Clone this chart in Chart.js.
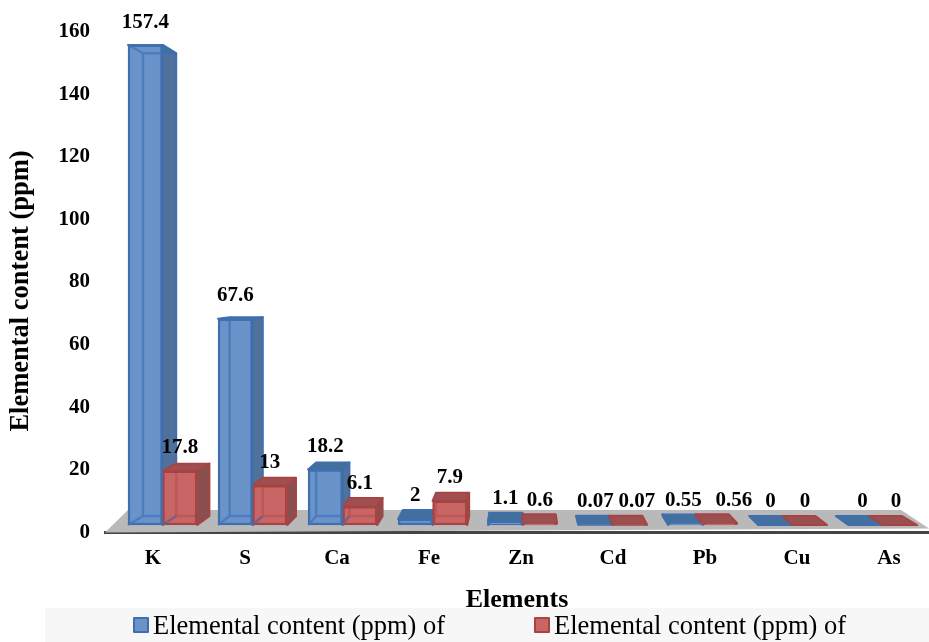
<!DOCTYPE html>
<html>
<head>
<meta charset="utf-8">
<style>html,body{margin:0;padding:0;background:#fff;overflow:hidden}canvas{display:block}</style>
<script src="https://cdn.jsdelivr.net/npm/chart.js@4"></script>
</head>
<body>
<div style="width:929px;height:642px;position:relative"><canvas id="c"></canvas></div>
<script>
const elements = ['K', 'S', 'Ca', 'Fe', 'Zn', 'Cd', 'Pb', 'Cu', 'As'];
const contentFirst = [157.4, 67.6, 18.2, 2, 1.1, 0.07, 0.55, 0, 0];
const contentSecond = [17.8, 13, 6.1, 7.9, 0.6, 0.07, 0.56, 0, 0];
const seriesNames = ['Elemental content (ppm) of', 'Elemental content (ppm) of'];
const yTicks = [0, 20, 40, 60, 80, 100, 120, 140, 160];
const yAxisTitle = 'Elemental content (ppm)';

const SERIF = '"Liberation Serif", "Times New Roman", serif';
const palettes = [
  { front: '#6a93c9', border: '#3f6fae', edge: 'rgba(64,115,185,0.7)', side: '#50719b', top: '#41709f', floor: '#44709f' },
  { front: '#c96565', border: '#a64444', edge: 'rgba(168,62,62,0.35)', side: '#8b4f50', top: '#a04f50', floor: '#9a5050' }
];

// Horizontal lean of the bars' depth: to the right on the left of the chart, to the left on the right.
const leanAt = x => 15 - (x - 128) * 0.0382;
// Vertical offset of the back edge; taller bars are seen from lower down.
const riseAt = value => -9 + value * 0.11;

function poly(ctx, pts, fill, stroke, lw) {
  ctx.beginPath();
  pts.forEach((p, i) => i ? ctx.lineTo(p[0], p[1]) : ctx.moveTo(p[0], p[1]));
  ctx.closePath();
  ctx.lineJoin = 'round';
  if (fill) { ctx.fillStyle = fill; ctx.fill(); }
  if (stroke) { ctx.strokeStyle = stroke; ctx.lineWidth = lw || 1; ctx.stroke(); }
}

function barGeometry(bar, value) {
  const l = bar.x - bar.width / 2, r = bar.x + bar.width / 2;
  const ft = bar.y, fb = bar.base;
  const bl = l + leanAt(l), br = r + leanAt(r);
  return { l, r, ft, fb, bl, br, bt: ft + riseAt(value), bb: fb - 9 };
}

const depthPlugin = {
  id: 'depth',
  beforeDatasetsDraw(chart) {
    const { ctx, chartArea: a } = chart;
    // Floor slab under the bars
    poly(ctx, [[a.left, a.bottom], [a.left + 23, 510], [901, 510], [a.right, a.bottom - 4]], '#b9b9b9');
    chart.data.datasets.forEach((ds, di) => {
      const pal = palettes[di];
      chart.getDatasetMeta(di).data.forEach((bar, i) => {
        const v = ds.data[i].y, g = barGeometry(bar, v);
        if (g.fb - g.ft > 1.5) {
          const side = g.br > g.r
            ? [[g.r, g.ft], [g.br, g.bt], [g.br, g.bb], [g.r, g.fb]]
            : [[g.l, g.ft], [g.bl, g.bt], [g.bl, g.bb], [g.l, g.fb]];
          poly(ctx, side, pal.side, pal.border, 2);
        }
        const topFill = v < 1 ? pal.floor : pal.top;
        poly(ctx, [[g.l, g.ft], [g.bl, g.bt], [g.br, g.bt], [g.r, g.ft]], topFill, pal.border, 2);
      });
    });
  },
  afterDatasetsDraw(chart) {
    const { ctx } = chart;
    chart.data.datasets.forEach((ds, di) => {
      const pal = palettes[di];
      chart.getDatasetMeta(di).data.forEach((bar, i) => {
        const v = ds.data[i].y, g = barGeometry(bar, v);
        if (g.fb - g.ft < 8) return;
        // Hidden back edges showing through the translucent front
        ctx.beginPath();
        ctx.moveTo(g.l, g.fb); ctx.lineTo(g.bl, g.bb);
        ctx.lineTo(g.bl, Math.max(g.ft, g.bt));
        ctx.moveTo(g.bl, g.bb); ctx.lineTo(Math.min(g.r, g.br), g.bb);
        ctx.moveTo(g.r, g.fb); ctx.lineTo(g.br, g.bb);
        if (g.bt > g.ft) {
          // The tallest bars show the underside of their top edge
          ctx.moveTo(g.l, g.ft); ctx.lineTo(g.bl, g.bt); ctx.lineTo(g.r, g.bt);
        }
        ctx.strokeStyle = pal.edge; ctx.lineWidth = 2.5; ctx.stroke();
      });
    });
  }
};

// Small sideways shifts that keep neighbouring value labels apart
const labelShiftFirst = [0, 0, 0, 0, 0, 0, -2, -5, -3];
const labelShiftSecond = [0, 0, 0, 0, 0, 7, 14, -5, -4];

const valueLabelPlugin = {
  id: 'valueLabels',
  afterDraw(chart) {
    const { ctx } = chart;
    ctx.save();
    ctx.font = 'bold 21px ' + SERIF;
    ctx.fillStyle = '#000';
    ctx.textAlign = 'center';
    ctx.textBaseline = 'middle';
    [labelShiftFirst, labelShiftSecond].forEach((shift, di) => {
      chart.getDatasetMeta(di).data.forEach((bar, i) => {
        const v = chart.data.datasets[di].data[i].y;
        ctx.fillText(String(v), bar.x + shift[i], bar.y - (v > 100 ? 22 : 23));
      });
    });
    // Vertical axis title, centred a little below the plot's middle
    ctx.font = 'bold 26.5px ' + SERIF;
    ctx.translate(21, 291);
    ctx.rotate(-Math.PI / 2);
    ctx.fillText(yAxisTitle, 0, 0);
    ctx.restore();
  }
};

const legendBandPlugin = {
  id: 'legendBand',
  beforeDraw(chart) {
    const { ctx } = chart;
    ctx.fillStyle = '#f7f7f7';
    ctx.fillRect(45, 608, chart.width - 45, chart.height - 608);
  },
  afterDraw(chart) {
    const { ctx } = chart;
    ctx.save();
    ctx.font = '26.5px ' + SERIF;
    ctx.textAlign = 'left';
    ctx.textBaseline = 'middle';
    [134, 535].forEach((x, di) => {
      ctx.fillStyle = palettes[di].front;
      ctx.strokeStyle = palettes[di].border;
      ctx.lineWidth = 2;
      ctx.fillRect(x, 618, 14, 14);
      ctx.strokeRect(x, 618, 14, 14);
      ctx.fillStyle = '#000';
      ctx.fillText(chart.data.datasets[di].label, x + 19, 627);
    });
    ctx.restore();
  }
};

const toPoints = values => values.map((y, x) => ({ x, y }));
const barStyle = i => ({
  backgroundColor: palettes[i].front,
  borderColor: palettes[i].border,
  borderWidth: 2.5,
  borderSkipped: false,
  barThickness: 34.5,
  xAxisID: 'x2',
  yAxisID: 'y2'
});

new Chart(document.getElementById('c'), {
  type: 'bar',
  data: {
    datasets: [
      { label: seriesNames[0], data: toPoints(contentFirst), ...barStyle(0) },
      { label: seriesNames[1], data: toPoints(contentSecond), ...barStyle(1) }
    ]
  },
  plugins: [legendBandPlugin, depthPlugin, valueLabelPlugin],
  options: {
    responsive: true,
    maintainAspectRatio: false,
    animation: false,
    layout: { padding: { top: 31.5, right: 0, left: 0, bottom: 26 } },
    plugins: { legend: { display: false }, tooltip: { enabled: false } },
    scales: {
      // Labelled axis
      x: {
        type: 'linear', offset: false, min: -0.522, max: 8.435,
        afterBuildTicks: s => { s.ticks = elements.map((_, i) => ({ value: i })); },
        afterFit: s => { s.height = 83.5; },
        grid: { display: false },
        border: { color: '#444', width: 3 },
        ticks: {
          autoSkip: false, maxRotation: 0, padding: 5, color: '#000',
          font: { family: SERIF, size: 21, weight: 'bold' },
          callback: v => elements[v]
        },
        title: { display: true, text: 'Elements', color: '#000', padding: { top: 14, bottom: 0 },
                 font: { family: SERIF, size: 26, weight: 'bold' } }
      },
      y: {
        min: 0, max: 160,
        afterBuildTicks: s => { s.ticks = yTicks.map(value => ({ value })); },
        afterFit: s => { s.width = 105; },
        grid: { display: false },
        border: { display: false },
        ticks: { padding: 7, color: '#000', font: { family: SERIF, size: 21, weight: 'bold' } }
      },
      // Scales of the bars' front plane, which sits slightly inside the labelled axes
      x2: { type: 'linear', offset: false, display: false, min: -0.639, max: 8.514, grid: { display: false } },
      y2: { display: false, min: -2.46, max: 161.8, grid: { display: false } }
    }
  }
});
</script>
</body>
</html>
